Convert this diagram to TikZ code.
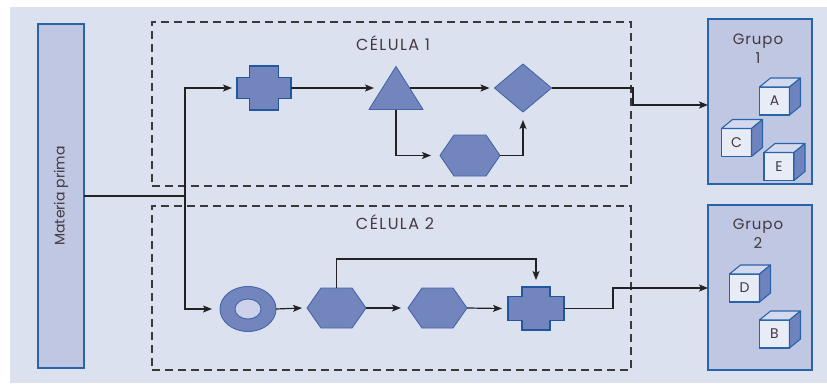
\documentclass[tikz,border=0pt]{standalone}
\usepackage{fontspec}
\setmainfont{Poppins}
\newfontfamily\spaced[LetterSpace=6]{Poppins}
\newfontfamily\wider[LetterSpace=9]{Poppins}
\usetikzlibrary{arrows.meta,calc}
\definecolor{bg}{HTML}{DCE1EF}
\definecolor{boxfill}{HTML}{BFC7E3}
\definecolor{boxline}{HTML}{2A64A8}
\definecolor{shapefill}{HTML}{7286BD}
\definecolor{shapeline}{HTML}{4466A8}
\definecolor{crossline}{HTML}{1F58A0}
\definecolor{txt}{HTML}{45383F}
\definecolor{linec}{HTML}{222222}
\definecolor{dashc}{HTML}{3A3A3A}
\definecolor{cubefront}{HTML}{E8ECF6}
\definecolor{cubetop}{HTML}{D3D9EE}
\definecolor{cubeside}{HTML}{6F84BE}
\definecolor{ringin}{HTML}{CBD2EA}
\newcommand\crossat[3]{%
  \filldraw[crossshp] ($(#1.north)+(-#2,0)$) -- ($(#1.north)+(#2,0)$) -- ($(#1)+(#2,-#3)$) -- ($(#1.east)+(0,-#3)$) -- ($(#1.east)+(0,#3)$) -- ($(#1)+(#2,#3)$) -- ($(#1.south)+(#2,0)$) -- ($(#1.south)+(-#2,0)$) -- ($(#1)+(-#2,#3)$) -- ($(#1.west)+(0,#3)$) -- ($(#1.west)+(0,-#3)$) -- ($(#1)+(-#2,-#3)$) -- cycle;}
\newcommand\hexat[2]{%
  \filldraw[shp] (#1.west) -- ($(#1.north west)+(#2,0)$) -- ($(#1.north east)+(-#2,0)$) -- (#1.east) -- ($(#1.south east)+(-#2,0)$) -- ($(#1.south west)+(#2,0)$) -- cycle;}
\newcommand\cubeat[4]{%
  \node[cubebox] (#1) at (#2) {#3};
  \filldraw[cubeedge, fill=cubetop] (#1.north west) -- ++(#4,-9) -- ++(30,0) -- (#1.north east) -- cycle;
  \filldraw[cubeedge, fill=cubeside] (#1.north east) -- ++(#4,-9) -- ++(0,28) -- (#1.south east) -- cycle;}
\begin{document}
\begin{tikzpicture}[x=1pt,y=-1pt,
  every node/.style={text=txt},
  hold/.style={inner sep=0pt, outer sep=0pt},
  shp/.style={fill=shapefill, draw=shapeline, line width=0.9pt, line join=round},
  crossshp/.style={fill=shapefill, draw=crossline, line width=1.6pt, line join=miter},
  bigbox/.style={fill=boxfill, draw=boxline, line width=1.6pt, inner sep=0pt, outer sep=0pt},
  cellbox/.style={draw=dashc, line width=1.2pt, dash pattern=on 8pt off 5pt, inner sep=0pt, outer sep=0pt},
  conn/.style={draw=linec, line width=1.2pt},
  arr/.style={conn, -{Stealth[length=9pt,width=7pt,inset=2pt]}},
  cubebox/.style={fill=cubefront, draw=boxline, line width=1.4pt, minimum width=30pt, minimum height=28pt, inner sep=0pt, outer sep=0pt, font=\fontsize{14}{14}\selectfont},
  cubeedge/.style={draw=boxline, line width=1.1pt, line join=round},
  lbl/.style={font=\wider\fontsize{16}{16}\selectfont},
]
\useasboundingbox (0,0) rectangle (827,383);
\fill[white] (0,0) rectangle (827,383);
\fill[bg] (10,7) rectangle (827,383);

% main boxes
\node[bigbox, minimum width=46pt, minimum height=344pt] (mp) at (61,196) {};
\node[rotate=90, font=\fontsize{14}{14}\selectfont] (mpl) at (mp) {Materia prima};
\node[cellbox, minimum width=479pt, minimum height=164pt] (cell1) at (391.5,104) {};
\node[cellbox, minimum width=479pt, minimum height=164pt] (cell2) at (391.5,288) {};
\node[lbl] (l1) at (393,43) {CÉLULA 1};
\node[lbl] (l2) at (395,222) {CÉLULA 2};
\node[bigbox, minimum width=104pt, minimum height=165pt] (g1) at (760,101.5) {};
\node[bigbox, minimum width=104pt, minimum height=165pt] (g2) at (760,287.5) {};
\node[align=center, font=\spaced\fontsize{15}{19}\selectfont] (gl1) at (758,49) {Grupo\\1};
\node[align=center, font=\spaced\fontsize{15}{19}\selectfont] (gl2) at (758,234) {Grupo\\2};

% cubes
\cubeat{cA}{774.5,101}{A}{11}
\cubeat{cC}{736.5,142.5}{C}{11}
\cubeat{cE}{779,166.5}{E}{11}
\cubeat{cD}{744.5,288}{D}{11}
\cubeat{cB}{774.5,334}{B}{11}

% cell 1 shapes
\node[hold, minimum width=54pt, minimum height=44pt] (c1) at (264,88) {};
\crossat{c1}{14.5}{10.5}
\node[hold, minimum width=54pt, minimum height=43pt] (tri) at (396,88) {};
\filldraw[shp] (tri.south west) -- (tri.north) -- (tri.south east) -- cycle;
\node[hold, minimum width=57pt, minimum height=48pt] (dia) at (523,88) {};
\filldraw[shp] (dia.west) -- (dia.north) -- (dia.east) -- (dia.south) -- cycle;
\node[hold, minimum width=60pt, minimum height=41pt] (h1) at (470,155.5) {};
\hexat{h1}{14}

% cell 2 shapes
\node[hold, minimum width=56pt, minimum height=45pt] (ring) at (248,309) {};
\filldraw[shp] (ring) ellipse [x radius=28pt, y radius=22.5pt];
\filldraw[shp, fill=ringin] (ring) ellipse [x radius=13pt, y radius=10pt];
\node[hold, minimum width=59pt, minimum height=40pt] (h2) at (336.5,308) {};
\hexat{h2}{14}
\node[hold, minimum width=59pt, minimum height=40pt] (h3) at (437.5,308) {};
\hexat{h3}{14}
\node[hold, minimum width=56pt, minimum height=43pt] (c2) at (536,308.5) {};
\crossat{c2}{14}{12}

% connectors
\coordinate (j) at (185,196);
\coordinate (k1) at (633,105);
\coordinate (k2) at (536,259);
\coordinate (k3) at (613,288);
\draw[conn] (mp.east) -- (j);
\draw[arr] (j) |- ([xshift=-5pt]c1.west);
\draw[arr] (j) |- ([xshift=-8pt]ring.west);
\draw[arr] (c1.east) -- ([xshift=5pt]tri.west);
\draw[arr] ([xshift=-13.5pt]tri.east) -- ([xshift=-5pt]dia.west);
\draw[arr] (tri.south) |- ([xshift=-9pt]h1.west);
\draw[arr] (h1.east) -| ([yshift=-8pt]dia.south);
\draw[arr] (dia.east) -| (k1) -- (k1 -| g1.west);
\draw[arr] (ring.east) -- ([xshift=-5pt]h2.west);
\draw[arr] (h2.east) -- ([xshift=-7pt]h3.west);
\draw[arr] (h3.east) -- ([xshift=-6pt]c2.west);
\draw[arr] (h2.north) |- (k2) -- ([yshift=7pt]c2.north);
\draw[arr] (c2.east) -| (k3) -- (k3 -| g2.west);
\end{tikzpicture}
\end{document}
